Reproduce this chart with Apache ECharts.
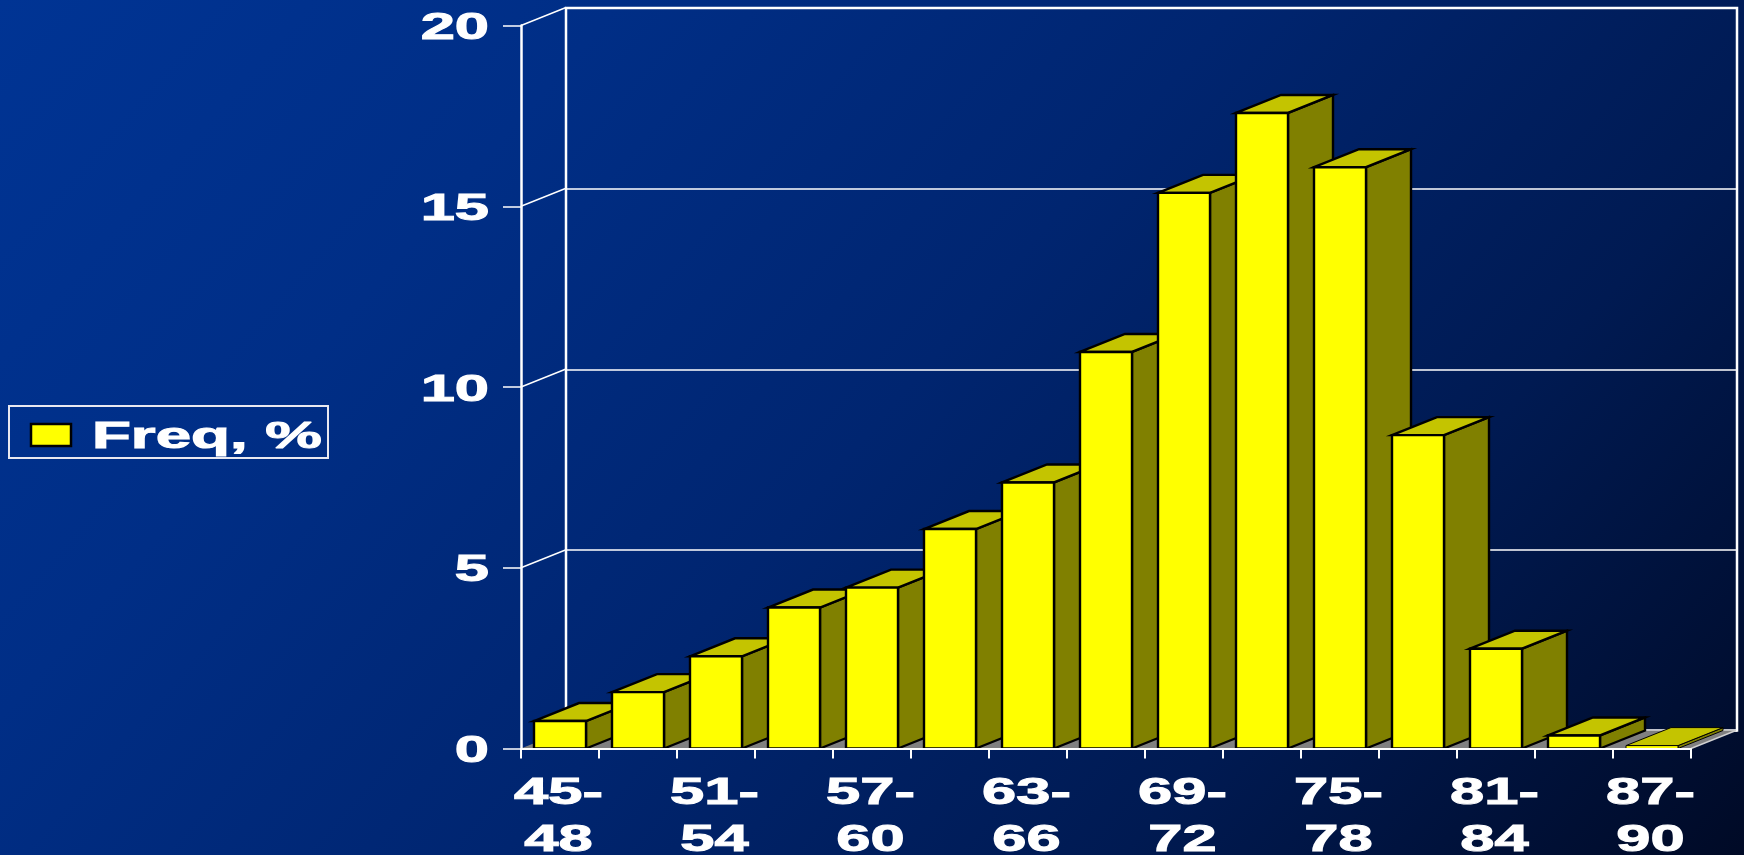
<!DOCTYPE html>
<html><head><meta charset="utf-8">
<style>html,body{margin:0;padding:0;background:#001a5c}#c{width:1744px;height:855px}</style>
<script src="https://cdn.jsdelivr.net/npm/echarts@6/dist/echarts.min.js"></script>
</head><body><div id="c"></div>
<script>
const seriesName = 'Freq, %';
const categories = ['45-48','48-51','51-54','54-57','57-60','60-63','63-66','66-69','69-72','72-75','75-78','78-81','81-84','84-87','87-90'];
const freq = [0.76,1.56,2.55,3.9,4.45,6.07,7.36,10.97,15.37,17.58,16.08,8.67,2.76,0.36,0.08];
const yTicks = [0,5,10,15,20];
const wallTicks = [5,10,15,20];

const DX = 45, DY = -18, BAR_W = 52;
const FONT = {fontFamily:'"Liberation Sans"', fontWeight:'bold', fontSize:37, fill:'#fff', stroke:'#fff', lineWidth:1};
const STRETCH = 1.66;
const chart = echarts.init(document.getElementById('c'));

function bar(params, api){
  const c = api.coord([api.value(0), api.value(1)]);
  const b = api.coord([api.value(0), 0]);
  const l = c[0]-BAR_W/2, r = c[0]+BAR_W/2, t = c[1], g = b[1];
  const st = (fill, w) => ({fill, stroke:'#000', lineWidth:w, lineJoin:'miter'});
  const w = (g - t) < 6 ? 1 : 2.4;
  return {type:'group', children:[
    {type:'polygon', shape:{points:[[r,g],[r+DX,g+DY],[r+DX,t+DY],[r,t]]}, style:st('#808000', w)},
    {type:'polygon', shape:{points:[[l,t],[l+DX,t+DY],[r+DX,t+DY],[r,t]]}, style:st('#c4c400', w)},
    {type:'polygon', shape:{points:[[l,t],[r,t],[r,g],[l,g]]}, style:st('#ffff00', w)}
  ]};
}
function floor(params, api){
  const hb = api.size([1,0])[0]/2;
  const a = api.coord([0,0]), z = api.coord([categories.length-1,0]);
  const x0 = a[0]-hb, x1 = z[0]+hb, y = a[1];
  return {type:'group', children:[
    {type:'polygon', shape:{points:[[x0,y],[x1,y],[x1+DX,y+DY],[x0+DX,y+DY]]}, style:{fill:'#808080'}},
    {type:'line', shape:{x1:x1,y1:y,x2:x1+DX,y2:y+DY}, style:{stroke:'#d0d0d0',lineWidth:1.5}}
  ]};
}
function wallDiag(params, api){
  const hb = api.size([1,0])[0]/2;
  const p = api.coord([0, api.value(1)]);
  const x = p[0]-hb;
  return {type:'line', shape:{x1:x,y1:p[1],x2:x+DX,y2:p[1]+DY}, style:{stroke:'#fff',lineWidth:1.5}};
}
function yLabel(params, api){
  const hb = api.size([1,0])[0]/2;
  const p = api.coord([0, api.value(1)]);
  return {type:'text', x:p[0]-hb-32, y:p[1]+3.5, scaleX:STRETCH,
    style:Object.assign({text:String(yTicks[params.dataIndex]), align:'right', verticalAlign:'middle'}, FONT)};
}
function xLabel(params, api){
  const idx = api.value(0);
  const p = api.coord([idx, 0]);
  if (idx % 2) return null;
  return {type:'text', x:p[0]-1.5, y:p[1]+69, scaleX:STRETCH,
    style:Object.assign({text:categories[idx].replace('-','-\n'), align:'center', verticalAlign:'middle', lineHeight:47}, FONT)};
}
const barData = freq.map((v,i)=>[i,v]);
const blankAxis = {axisLine:{show:false},axisTick:{show:false},axisLabel:{show:false}};
chart.setOption({
  animation:false,
  backgroundColor:{type:'linear',x:0,y:0,x2:0.814,y2:1.437,colorStops:[
    {offset:0,color:'#003494'},{offset:0.25,color:'#002e86'},{offset:0.5,color:'#002570'},{offset:0.75,color:'#001a52'},{offset:1,color:'#000a26'}]},
  tooltip:{show:false},
  grid:[
    {left:521,right:53,top:25.5,bottom:106.5},
    {left:566,right:7,top:8,bottom:124.5,show:true,backgroundColor:'transparent',borderColor:'#fff',borderWidth:2.5,z:1}
  ],
  xAxis:[
    {type:'category',gridIndex:0,data:categories,z:10,
     axisLine:{onZero:false,lineStyle:{color:'#fff',width:2}},
     axisTick:{show:true,alignWithLabel:false,interval:0,length:10,lineStyle:{color:'#fff',width:2}},
     axisLabel:{show:false},splitLine:{show:false}},
    Object.assign({type:'category',gridIndex:1,data:categories,splitLine:{show:false}},blankAxis)
  ],
  yAxis:[
    {type:'value',gridIndex:0,min:0,max:20,interval:5,z:10,
     axisLine:{show:true,lineStyle:{color:'#fff',width:2.5}},
     axisTick:{show:true,length:18,lineStyle:{color:'#fff',width:1.5}},
     axisLabel:{show:false},splitLine:{show:false}},
    Object.assign({type:'value',gridIndex:1,min:0,max:20,interval:5,
     splitLine:{show:true,lineStyle:{color:'#fff',width:1.5}}},blankAxis)
  ],
  series:[
    {type:'custom',name:'floor',z:1,xAxisIndex:0,yAxisIndex:0,silent:true,renderItem:floor,data:[[0,0]],encode:{x:0,y:1}},
    {type:'custom',name:'wall',z:2,xAxisIndex:0,yAxisIndex:0,silent:true,renderItem:wallDiag,data:wallTicks.map(v=>[0,v]),encode:{x:0,y:1}},
    {type:'custom',name:seriesName,z:5,xAxisIndex:0,yAxisIndex:0,renderItem:bar,data:barData,encode:{x:0,y:1}},
    {type:'custom',name:'yLabels',z:12,xAxisIndex:0,yAxisIndex:0,silent:true,renderItem:yLabel,data:yTicks.map(v=>[0,v]),encode:{x:0,y:1}},
    {type:'custom',name:'xLabels',z:12,xAxisIndex:0,yAxisIndex:0,silent:true,renderItem:xLabel,data:categories.map((c,i)=>[i,0]),encode:{x:0,y:1}}
  ],
  graphic:[
    {type:'rect',shape:{x:9,y:406,width:319,height:52},style:{fill:'transparent',stroke:'#e8e8f0',lineWidth:2},z:20},
    {type:'rect',shape:{x:31,y:424,width:40,height:22},style:{fill:'#ffff00',stroke:'#000',lineWidth:2.5},z:20},
    {type:'text',x:92,y:438,scaleX:1.72,z:20,style:Object.assign({text:seriesName,align:'left',verticalAlign:'middle'},FONT)}
  ]
});
</script></body></html>
